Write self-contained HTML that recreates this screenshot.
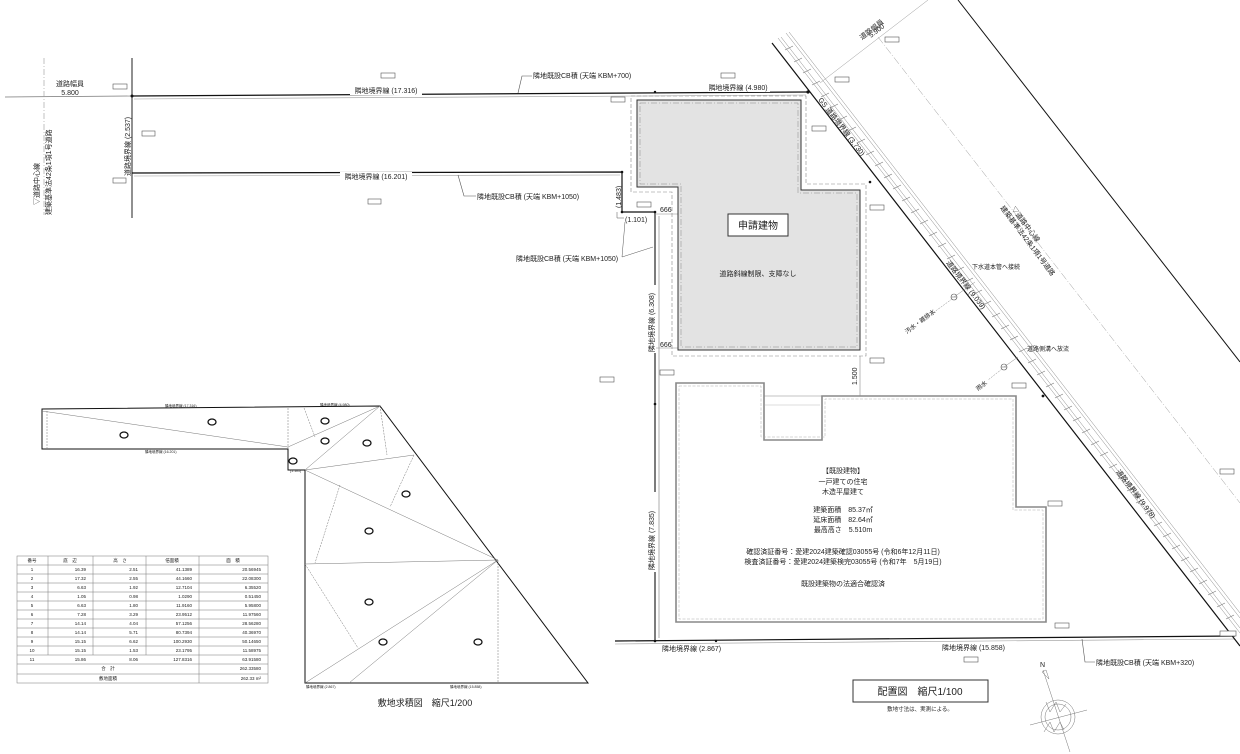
<!DOCTYPE html>
<html><head><meta charset="utf-8"><style>
html,body{margin:0;padding:0;background:#fff}
svg{display:block}
text{font-family:"Liberation Sans","Noto Sans CJK JP",sans-serif;fill:#222}
.s{font-size:7px}
.xs{font-size:4px}
.tag rect{fill:#fff;stroke:#555;stroke-width:.6}
</style></head><body>
<svg width="1240" height="754" viewBox="0 0 1240 754" xmlns="http://www.w3.org/2000/svg">
<line x1="5" y1="97" x2="132" y2="96" stroke="#777" stroke-width=".7"/>
<line x1="44" y1="58" x2="44" y2="215" stroke="#999" stroke-width=".6" stroke-dasharray="6 2 1 2"/>
<text class="s" x="70" y="86" text-anchor="middle">道路幅員</text>
<text class="s" x="70" y="95" text-anchor="middle">5.800</text>
<text class="s" transform="translate(39,205) rotate(-90)">▽道路中心線</text>
<text class="s" transform="translate(51,215) rotate(-90)">建築基準法42条1項1号道路</text>
<line x1="132" y1="58" x2="132" y2="218" stroke="#222" stroke-width="1"/>
<text class="s" transform="translate(130,176) rotate(-90)">道路境界線 (2.537)</text>
<polyline points="132,96 808,92" fill="none" stroke="#111" stroke-width="1.2"/>
<line x1="134" y1="99" x2="806" y2="95" stroke="#999" stroke-width=".6"/>
<circle cx="132" cy="96" r="1.5" fill="#111"/><circle cx="808" cy="92" r="1.6" fill="#111"/><circle cx="655" cy="92" r="1.2" fill="#111"/>
<rect x="350" y="86" width="72" height="9" fill="#fff"/>
<text class="s" x="386" y="93" text-anchor="middle">隣地境界線 (17.316)</text>
<polyline points="518,93 522,76 532,76" fill="none" stroke="#555" stroke-width=".6"/>
<text class="s" x="533" y="78">隣地既設CB積 (天端 KBM+700)</text>
<rect x="708" y="83" width="62" height="9" fill="#fff"/>
<text class="s" x="738" y="90" text-anchor="middle">隣地境界線 (4.980)</text>
<polyline points="132,173 622,172 622,212 655,212" fill="none" stroke="#111" stroke-width="1.2"/>
<line x1="134" y1="176" x2="620" y2="175" stroke="#999" stroke-width=".6"/>
<circle cx="622" cy="172" r="1.3" fill="#111"/><circle cx="622" cy="212" r="1.3" fill="#111"/><circle cx="655" cy="212" r="1.3" fill="#111"/>
<rect x="340" y="172" width="72" height="9" fill="#fff"/>
<text class="s" x="376" y="179" text-anchor="middle">隣地境界線 (16.201)</text>
<polyline points="458,175 464,196 476,196" fill="none" stroke="#555" stroke-width=".6"/>
<text class="s" x="477" y="199">隣地既設CB積 (天端 KBM+1050)</text>
<text class="s" transform="translate(621,208) rotate(-90)">(1.483)</text>
<text class="s" x="625" y="222">(1.101)</text>
<polyline points="617,212 617,218 624,218" fill="none" stroke="#555" stroke-width=".5"/>
<polyline points="653,247 622,257 625,222" fill="none" stroke="#555" stroke-width=".5"/>
<text class="s" x="516" y="261">隣地既設CB積 (天端 KBM+1050)</text>
<line x1="655" y1="212" x2="655" y2="640" stroke="#111" stroke-width="1.1"/>
<line x1="659" y1="216" x2="659" y2="638" stroke="#777" stroke-width=".6"/>
<circle cx="655" cy="404" r="1.3" fill="#111"/>
<text class="s" x="660" y="212">666</text>
<text class="s" x="660" y="347">666</text>
<line x1="655" y1="214" x2="680" y2="214" stroke="#888" stroke-width=".5"/>
<line x1="655" y1="348" x2="678" y2="348" stroke="#888" stroke-width=".5"/>
<rect x="647" y="285" width="9" height="68" fill="#fff"/>
<text class="s" transform="translate(654,352) rotate(-90)">隣地境界線 (6.308)</text>
<rect x="647" y="492" width="9" height="80" fill="#fff"/>
<text class="s" transform="translate(654,570) rotate(-90)">隣地境界線 (7.835)</text>
<line x1="615" y1="641" x2="1235" y2="636" stroke="#111" stroke-width="1.2"/>
<line x1="615" y1="644" x2="1235" y2="639" stroke="#999" stroke-width=".6"/>
<circle cx="655" cy="641" r="1.3" fill="#111"/><circle cx="716" cy="641" r="1.2" fill="#111"/>
<rect x="660" y="644" width="72" height="9" fill="#fff"/>
<text class="s" x="662" y="651">隣地境界線 (2.867)</text>
<rect x="940" y="643" width="72" height="9" fill="#fff"/>
<text class="s" x="942" y="650">隣地境界線 (15.858)</text>
<polyline points="1082,639 1085,662 1095,662" fill="none" stroke="#555" stroke-width=".6"/>
<text class="s" x="1096" y="665">隣地既設CB積 (天端 KBM+320)</text>
<line x1="772" y1="43" x2="1240" y2="646" stroke="#111" stroke-width="1.2"/>
<circle cx="1043" cy="396" r="1.4" fill="#111"/><circle cx="870" cy="182" r="1.3" fill="#111"/>
<g stroke="#888" stroke-width=".5" fill="none">
<line x1="778" y1="38" x2="1240" y2="633"/>
<line x1="781" y1="37" x2="1240" y2="628"/>
<line x1="786" y1="33" x2="1240" y2="618"/>
<line x1="789" y1="32" x2="1240" y2="613"/>
</g>
<g stroke="#777" stroke-width=".6">
<path d="M785,50 l8,-4 M794,62 l8,-4 M803,73 l8,-4 M812,85 l8,-4 M821,97 l8,-4 M830,108 l8,-4 M839,120 l8,-4 M848,131 l8,-4 M857,143 l8,-4 M866,155 l8,-4 M875,166 l8,-4 M884,178 l8,-4 M893,189 l8,-4 M902,201 l8,-4 M911,213 l8,-4 M920,224 l8,-4 M929,236 l8,-4 M938,247 l8,-4 M947,259 l8,-4 M956,271 l8,-4 M965,282 l8,-4 M974,294 l8,-4 M983,305 l8,-4 M992,317 l8,-4 M1001,329 l8,-4 M1010,340 l8,-4 M1019,352 l8,-4 M1028,363 l8,-4 M1037,375 l8,-4 M1046,387 l8,-4 M1055,398 l8,-4 M1064,410 l8,-4 M1073,421 l8,-4 M1082,433 l8,-4 M1091,445 l8,-4 M1100,456 l8,-4 M1109,468 l8,-4 M1118,479 l8,-4 M1127,491 l8,-4 M1136,503 l8,-4 M1145,514 l8,-4 M1154,526 l8,-4 M1163,537 l8,-4 M1172,549 l8,-4 M1181,561 l8,-4 M1190,572 l8,-4 M1199,584 l8,-4 M1208,595 l8,-4 M1217,607 l8,-4 M1226,619 l8,-4"/>
</g>
<text class="s" transform="translate(818,100) rotate(52.3)">GS 道路境界線 (3.730)</text>
<text class="s" transform="translate(946,263) rotate(52.3)">道路境界線 (9.039)</text>
<text class="s" transform="translate(1116,472) rotate(52.3)">道路境界線 (9.978)</text>
<line x1="958" y1="0" x2="1240" y2="362" stroke="#111" stroke-width="1"/>
<line x1="878" y1="37" x2="1240" y2="503" stroke="#999" stroke-width=".5" stroke-dasharray="8 2 1 2"/>
<line x1="820" y1="83" x2="928" y2="0" stroke="#999" stroke-width=".5"/>
<text class="s" transform="translate(862,40) rotate(-37.7)">道路幅員</text>
<text class="s" transform="translate(871,38) rotate(-37.7)">5.900</text>
<text class="s" transform="translate(1011,209) rotate(53)">▽道路中心線</text>
<text class="s" transform="translate(1000,208) rotate(53)">建築基準法42条1項1号道路</text>
<circle cx="954" cy="297" r="3" fill="#fff" stroke="#555" stroke-width=".6"/>
<line x1="951" y1="297" x2="957" y2="297" stroke="#555" stroke-width=".5"/>
<line x1="954" y1="297" x2="975" y2="282" stroke="#888" stroke-width=".5"/>
<line x1="952" y1="299" x2="926" y2="318" stroke="#888" stroke-width=".5" stroke-dasharray="2 1"/>
<text style="font-size:6px" x="972" y="269">下水道本管へ接続</text>
<text style="font-size:6px" transform="translate(907,334) rotate(-37)">汚水・雑排水</text>
<circle cx="1004" cy="367" r="3" fill="#fff" stroke="#555" stroke-width=".6"/>
<line x1="1001" y1="367" x2="1007" y2="367" stroke="#555" stroke-width=".5"/>
<line x1="1004" y1="367" x2="1018" y2="357" stroke="#888" stroke-width=".5"/>
<line x1="1002" y1="369" x2="988" y2="380" stroke="#888" stroke-width=".5" stroke-dasharray="2 1"/>
<text style="font-size:6px" x="1027" y="351">道路側溝へ放流</text>
<text style="font-size:6px" transform="translate(978,391) rotate(-37)">雨水</text>
<polygon points="631,96 806,96 806,184 866,184 866,356 672,356 672,192 631,192" fill="none" stroke="#888" stroke-width=".6" stroke-dasharray="4 2"/>
<polygon points="637,100 801,100 801,190 860,190 860,350 678,350 678,187 637,187" fill="#e3e3e3" stroke="#333" stroke-width="1"/>
<polygon points="640,103 798,103 798,193 857,193 857,347 681,347 681,184 640,184" fill="none" stroke="#888" stroke-width=".5" stroke-dasharray="6 2 1 2"/>
<rect x="728" y="214" width="60" height="22" fill="#fff" stroke="#333" stroke-width="1"/>
<text x="758" y="229" text-anchor="middle" style="font-size:10px">申請建物</text>
<text class="s" x="758" y="276" text-anchor="middle">道路斜線制限、支障なし</text>
<line x1="860" y1="356" x2="860" y2="396" stroke="#777" stroke-width=".5"/>
<text class="s" transform="translate(857,385) rotate(-90)">1.500</text>
<polygon points="676,383 764,383 764,440 822,440 822,396 1016,396 1016,507 1046,507 1046,622 676,622" fill="none" stroke="#888" stroke-width="1.6"/>
<polygon points="679,386 761,386 761,437 825,437 825,399 1013,399 1013,510 1043,510 1043,619 679,619" fill="none" stroke="#aaa" stroke-width=".5" stroke-dasharray="3 1.5"/>
<line x1="764" y1="396" x2="822" y2="396" stroke="#888" stroke-width=".6"/>
<line x1="764" y1="405" x2="820" y2="405" stroke="#aaa" stroke-width=".4"/>
<g class="s" text-anchor="middle">
<text x="843" y="473">【既設建物】</text>
<text x="843" y="484">一戸建ての住宅</text>
<text x="843" y="494">木造平屋建て</text>
<text x="843" y="512">建築面積　85.37㎡</text>
<text x="843" y="522">延床面積　82.64㎡</text>
<text x="843" y="532">最高高さ　5.510m</text>
<text x="843" y="554">確認済証番号：愛建2024建築確認03055号 (令和6年12月11日)</text>
<text x="843" y="564">検査済証番号：愛建2024建築検完03055号 (令和7年　5月19日)</text>
<text x="843" y="586">既設建築物の法適合確認済</text>
</g>
<rect x="853" y="680" width="135" height="22" fill="#fff" stroke="#333" stroke-width="1"/>
<text x="920" y="695" text-anchor="middle" style="font-size:10px">配置図　縮尺1/100</text>
<text x="920" y="711" text-anchor="middle" style="font-size:5.5px">敷地寸法は、実測による。</text>
<g stroke="#777" stroke-width=".5" fill="none">
<circle cx="1058" cy="717" r="17"/>
<circle cx="1058" cy="717" r="13"/>
<line x1="1043" y1="670" x2="1070" y2="752"/>
<line x1="1030" y1="725" x2="1087" y2="710"/>
<path d="M1042,672 l4,-2 l3,9 z"/>
<path d="M1046,702 l4,10 l6,-10 l4,10 l6,-8 M1044,732 l6,-10 l4,10 l6,-10 l4,8"/>
</g>
<text class="s" x="1040" y="667">N</text>
<g class="tag">
<rect x="381" y="73" width="14" height="5"/><rect x="113" y="84" width="14" height="5"/><rect x="142" y="131" width="13" height="5"/>
<rect x="113" y="178" width="13" height="5"/><rect x="368" y="199" width="13" height="5"/><rect x="611" y="97" width="14" height="5"/>
<rect x="721" y="73" width="14" height="5"/><rect x="835" y="77" width="14" height="5"/><rect x="885" y="37" width="14" height="5"/>
<rect x="812" y="126" width="14" height="5"/><rect x="870" y="205" width="14" height="5"/><rect x="637" y="202" width="14" height="5"/>
<rect x="870" y="358" width="14" height="5"/><rect x="660" y="370" width="14" height="5"/><rect x="1012" y="383" width="14" height="5"/>
<rect x="1048" y="501" width="14" height="5"/><rect x="1055" y="623" width="14" height="5"/><rect x="964" y="657" width="14" height="5"/>
<rect x="1220" y="631" width="16" height="5"/><rect x="1220" y="469" width="14" height="5"/><rect x="600" y="377" width="14" height="5"/>
</g>
<g fill="none" stroke="#111" stroke-width="1">
<polygon points="42,409 380,406 588,683 305,683 305,470 288,470 288,449 42,449"/>
</g>
<g fill="none" stroke="#777" stroke-width=".5">
<line x1="42" y1="411" x2="288" y2="447"/>
<line x1="288" y1="408" x2="288" y2="449" stroke-dasharray="2 1"/>
<line x1="288" y1="447" x2="380" y2="406"/>
<line x1="304" y1="408" x2="315" y2="437" stroke-dasharray="2 1"/>
<line x1="305" y1="470" x2="380" y2="406"/>
<line x1="305" y1="470" x2="414" y2="455"/>
<line x1="380" y1="406" x2="387" y2="455" stroke-dasharray="2 1"/>
<line x1="305" y1="470" x2="498" y2="560"/>
<line x1="305" y1="564" x2="498" y2="560"/>
<line x1="305" y1="683" x2="498" y2="560"/>
<line x1="349" y1="683" x2="498" y2="560"/>
<line x1="498" y1="560" x2="498" y2="683" stroke-dasharray="2 1"/>
<line x1="340" y1="485" x2="315" y2="563" stroke-dasharray="2 1"/>
<line x1="305" y1="564" x2="358" y2="648" stroke-dasharray="2 1"/>
<line x1="414" y1="455" x2="390" y2="507" stroke-dasharray="2 1"/>
<line x1="47" y1="411" x2="47" y2="449" stroke-dasharray="2 1"/>
</g>
<g stroke="#111" stroke-width="1.3" fill="#fff">
<ellipse cx="212" cy="422" rx="4" ry="3"/><ellipse cx="124" cy="435" rx="4" ry="3"/><ellipse cx="325" cy="421" rx="4" ry="3"/>
<ellipse cx="325" cy="441" rx="4" ry="3"/><ellipse cx="367" cy="443" rx="4" ry="3"/><ellipse cx="293" cy="461" rx="4" ry="3"/>
<ellipse cx="406" cy="494" rx="4" ry="3"/><ellipse cx="369" cy="531" rx="4" ry="3"/><ellipse cx="369" cy="602" rx="4" ry="3"/>
<ellipse cx="383" cy="642" rx="4" ry="3"/><ellipse cx="478" cy="642" rx="4" ry="3"/>
</g>
<g style="font-size:3.5px">
<text x="165" y="407">隣地境界線 (17.316)</text><text x="320" y="406">隣地境界線 (4.980)</text>
<text x="145" y="453">隣地境界線 (16.201)</text><text x="306" y="688">隣地境界線 (2.867)</text><text x="450" y="688">隣地境界線 (15.858)</text>
<text x="290" y="472">(1.101)</text>
</g>
<text x="425" y="706" text-anchor="middle" style="font-size:9px">敷地求積図　縮尺1/200</text>
<g stroke="#777" stroke-width=".5" fill="none">
<rect x="17" y="556" width="251" height="127"/>
<path d="M17,565H268 M17,574H268 M17,583H268 M17,592H268 M17,601H268 M17,610H268 M17,619H268 M17,628H268 M17,637H268 M17,646H268 M17,655H268 M17,664H268 M17,674H268"/>
<path d="M48,556V655 M93,556V655 M146,556V655 M199,556V683"/>
</g>
<g style="font-size:4.5px">
<text x="32" y="562" text-anchor="middle">番号</text><text x="70" y="562" text-anchor="middle">底　辺</text><text x="120" y="562" text-anchor="middle">高　さ</text><text x="172" y="562" text-anchor="middle">倍面積</text><text x="233" y="562" text-anchor="middle">面　積</text>
<g text-anchor="middle"><text x="32" y="571">1</text><text x="32" y="580">2</text><text x="32" y="589">3</text><text x="32" y="598">4</text><text x="32" y="607">5</text><text x="32" y="616">6</text><text x="32" y="625">7</text><text x="32" y="634">8</text><text x="32" y="643">9</text><text x="32" y="652">10</text><text x="32" y="661">11</text>
<text x="108" y="670">合　計</text><text x="108" y="680">敷地面積</text></g>
<g text-anchor="end">
<text x="86" y="571">16.39</text><text x="86" y="580">17.32</text><text x="86" y="589">6.63</text><text x="86" y="598">1.05</text><text x="86" y="607">6.63</text><text x="86" y="616">7.28</text><text x="86" y="625">14.14</text><text x="86" y="634">14.14</text><text x="86" y="643">15.15</text><text x="86" y="652">15.15</text><text x="86" y="661">15.86</text>
<text x="138" y="571">2.51</text><text x="138" y="580">2.55</text><text x="138" y="589">1.92</text><text x="138" y="598">0.98</text><text x="138" y="607">1.80</text><text x="138" y="616">3.29</text><text x="138" y="625">4.04</text><text x="138" y="634">5.71</text><text x="138" y="643">6.62</text><text x="138" y="652">1.53</text><text x="138" y="661">8.06</text>
<text x="192" y="571">41.1389</text><text x="192" y="580">44.1660</text><text x="192" y="589">12.7104</text><text x="192" y="598">1.0290</text><text x="192" y="607">11.9160</text><text x="192" y="616">23.9512</text><text x="192" y="625">57.1256</text><text x="192" y="634">80.7394</text><text x="192" y="643">100.2930</text><text x="192" y="652">23.1795</text><text x="192" y="661">127.8316</text>
<text x="261" y="571">20.56945</text><text x="261" y="580">22.08300</text><text x="261" y="589">6.35520</text><text x="261" y="598">0.51450</text><text x="261" y="607">5.95800</text><text x="261" y="616">11.97560</text><text x="261" y="625">28.56280</text><text x="261" y="634">40.36970</text><text x="261" y="643">50.14650</text><text x="261" y="652">11.58975</text><text x="261" y="661">63.91580</text>
<text x="261" y="670">262.33580</text><text x="261" y="680">262.33 m²</text>
</g>
</g>
</svg>
</body></html>
